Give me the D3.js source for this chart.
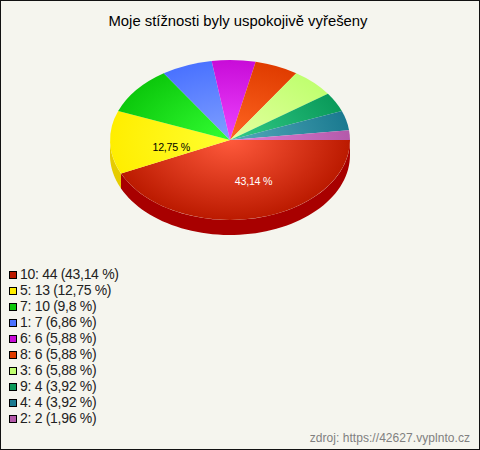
<!DOCTYPE html>
<html><head><meta charset="utf-8">
<script src="https://cdn.jsdelivr.net/npm/d3@7/dist/d3.min.js"></script>
<style>html,body{margin:0;padding:0;background:#f5f5ee}svg{display:block}</style>
</head><body><svg id="c" width="480" height="450"></svg>
<script>
const titleText = "Moje stížnosti byly uspokojivě vyřešeny";
const sourceText = "zdroj: https://42627.vyplnto.cz";
const categories = ["10","5","7","1","6","8","3","9","4","2"];
const values = [44,13,10,7,6,6,6,4,4,2];
const percents = ["43,14","12,75","9,8","6,86","5,88","5,88","5,88","3,92","3,92","1,96"];
const edgeColors = ["#bb1a00","#ffee00","#0cc80c","#4a72ff","#c80cd8","#e03c00","#c0ff70","#0a9a5a","#1a7a90","#b45aaa"];
const innerColors = ["#ff5a3c","#ffff30","#33ff33","#80a0ff","#ee44ff","#ff6622","#e4ffa0","#33cc88","#55aabb","#e080d8"];
const sideColors = ["#a80000","#e6cc00"];

const svg = d3.select("#c");
const W=480,H=450,cx=230,cy=140,rx=120,ry=80,depth=15;
const font="Liberation Sans, Arial, sans-serif";
svg.append("rect").attr("x",0.5).attr("y",0.5).attr("width",W-1).attr("height",H-1).attr("fill","#f5f5ee").attr("stroke","#111");

const arcs = d3.pie().sort(null).value(d=>d).startAngle(Math.PI/2).endAngle(Math.PI/2+2*Math.PI)(values);
const sx = d3.scaleLinear().domain([-1,1]).range([cx-rx,cx+rx]);
const sy = d3.scaleLinear().domain([-1,1]).range([cy-ry,cy+ry]);
const arc = d3.arc().innerRadius(0).outerRadius(1);

const defs = svg.append("defs");
edgeColors.forEach((c,i)=>{
  const g = defs.append("radialGradient").attr("id","g"+i).attr("gradientUnits","userSpaceOnUse")
    .attr("cx",0).attr("cy",0).attr("r",1);
  g.append("stop").attr("offset",0).attr("stop-color",innerColors[i]);
  g.append("stop").attr("offset",1).attr("stop-color",c);
});

function wall(a0,a1,color){
  const n=60, top=[], bot=[];
  d3.range(n+1).forEach(k=>{
    const t=a0+(a1-a0)*k/n, x=sx(Math.cos(t)), y=sy(Math.sin(t));
    top.push([x,y]); bot.unshift([x,y+depth]);
  });
  svg.append("path").attr("d",d3.line()(top.concat(bot))+"Z").attr("fill",color);
}
const toScreen = a=>a-Math.PI/2;
wall(toScreen(arcs[1].startAngle),Math.PI,sideColors[1]);
wall(toScreen(arcs[0].startAngle),toScreen(arcs[0].endAngle),sideColors[0]);

const face = svg.append("g").attr("transform",`translate(${cx},${cy}) scale(${rx},${ry})`);
arcs.forEach((d,i)=>{
  face.append("path").attr("d",arc(d)).attr("fill",`url(#g${i})`);
});

// in-slice labels, placed in unit-circle coordinates of the top face
[[0,0.196,0.525,"#ffffff"],[1,-0.49,0.1,"#000000"]].forEach(([i,u,v,col])=>{
  svg.append("text").attr("x",sx(u)).attr("y",sy(v)).attr("text-anchor","middle").attr("dominant-baseline","middle")
    .attr("font-family",font).attr("font-size",10.67).attr("letter-spacing",-0.25).attr("fill",col).text(percents[i]+" %");
});

svg.append("text").attr("x",238).attr("y",26).attr("text-anchor","middle").attr("font-family",font).attr("font-size",14.85).attr("fill","#000").text(titleText);

const ly = d3.scaleBand().domain(categories).range([267,427]);
categories.forEach((c,i)=>{
  const y=ly(c);
  svg.append("rect").attr("x",9.5).attr("y",y+4.5).attr("width",7).attr("height",7).attr("fill",edgeColors[i]).attr("stroke","#000");
  svg.append("text").attr("x",20).attr("y",y+12).attr("font-family",font).attr("font-size",14).attr("letter-spacing",-0.3).attr("fill","#222").text(`${c}: ${values[i]} (${percents[i]} %)`);
});
svg.append("text").attr("x",470).attr("y",442).attr("text-anchor","end").attr("font-family",font).attr("font-size",12).attr("letter-spacing",0.05).attr("fill","#808080").text(sourceText);
</script></body></html>
